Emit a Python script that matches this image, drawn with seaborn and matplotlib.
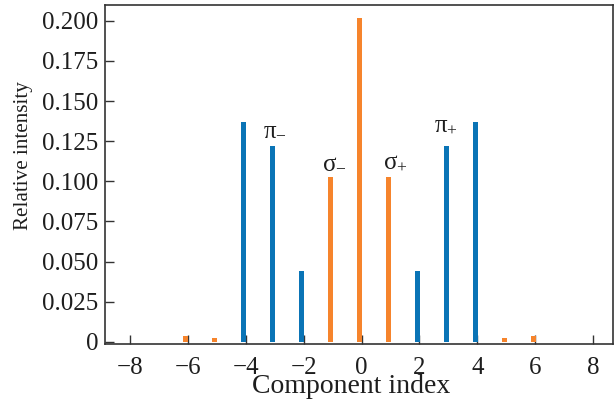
import matplotlib
matplotlib.use("Agg")
import matplotlib.pyplot as plt
import matplotlib.ticker as mticker
import numpy as np
import pandas as pd
import seaborn as sns

# Zeeman components: index and relative intensity
pi_index = [-4, -3, -2, 2, 3, 4]
pi_intensity = [0.137, 0.122, 0.044, 0.044, 0.122, 0.137]
sigma_index = [-6, -5, -1, 0, 1, 5, 6]
sigma_intensity = [0.0035, 0.0025, 0.1025, 0.2015, 0.1025, 0.0025, 0.0035]

x_ticks = [-8, -6, -4, -2, 0, 2, 4, 6, 8]
y_ticks = [0, 0.025, 0.05, 0.075, 0.1, 0.125, 0.15, 0.175, 0.2]

labels = [r"$\pi_{-}$", r"$\sigma_{-}$", r"$\sigma_{+}$", r"$\pi_{+}$"]
label_x = [-3.0, -0.93, 1.18, 2.93]
label_y = [0.129, 0.1085, 0.1085, 0.1315]

BLUE = "#0A74B6"
ORANGE = "#F6842C"
INK = "#1e1e1e"
BAR_SHIFT = -0.07

sns.set_theme(style="ticks")
plt.rcParams["font.family"] = ["Liberation Serif", "DejaVu Serif"]
plt.rcParams["mathtext.fontset"] = "custom"
plt.rcParams["mathtext.rm"] = "Liberation Serif"
plt.rcParams["mathtext.it"] = "Liberation Serif"
plt.rcParams["mathtext.bf"] = "Liberation Serif:bold"

df = pd.DataFrame({
    "pos": [i + BAR_SHIFT for i in pi_index + sigma_index],
    "intensity": pi_intensity + sigma_intensity,
    "kind": ["pi"] * len(pi_index) + ["sigma"] * len(sigma_index),
})

fig = plt.figure(figsize=(6.14, 4.03), dpi=100)
ax = fig.add_axes([105 / 614, 1 - 344 / 403, 508 / 614, 339 / 403])

sns.barplot(data=df, x="pos", y="intensity", hue="kind", native_scale=True,
            dodge=False, width=0.18, palette={"pi": BLUE, "sigma": ORANGE},
            saturation=1, linewidth=0, legend=False, ax=ax)

for txt, tx, ty in zip(labels, label_x, label_y):
    ax.text(tx, ty, txt, ha="center", va="baseline", fontsize=18, color=INK)

ax.set_xlim(-8.863, 8.69)
ax.set_ylim(-0.0013, 0.2098)
ax.set_xticks(x_ticks)
ax.set_yticks(y_ticks)
ax.yaxis.set_major_formatter(mticker.FuncFormatter(
    lambda v, _: "0" if abs(v) < 1e-9 else f"{v:.3f}"))
ax.xaxis.set_major_formatter(mticker.FuncFormatter(
    lambda v, _: f"{int(round(v))}".replace("-", "\u2212")))

ax.tick_params(direction="in", length=6.5, width=1.0, colors="#333333",
               labelcolor=INK, labelsize=18, pad=5)
ax.tick_params(axis="x", pad=9)
for s in ax.spines.values():
    s.set_visible(True)
    s.set_color("#333333")
    s.set_linewidth(1.2)

ax.set_xlabel("Component index", fontsize=20, color=INK)
ax.set_ylabel("Relative intensity", fontsize=15.2, color=INK)
ax.xaxis.set_label_coords(0.484, -0.089)
ax.yaxis.set_label_coords(-0.142, 0.557)

fig.savefig("out.png", dpi=100)
